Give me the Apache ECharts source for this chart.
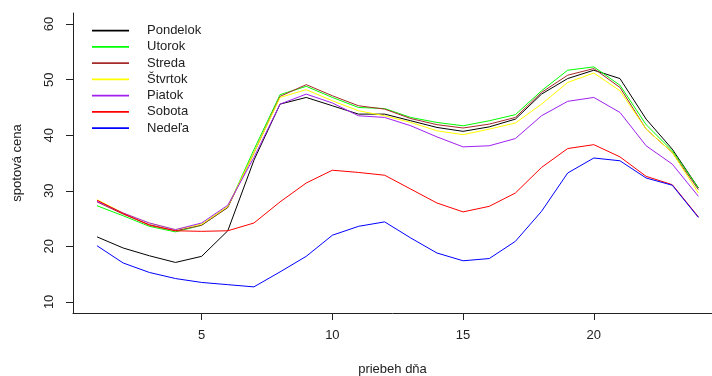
<!DOCTYPE html>
<html>
<head>
<meta charset="utf-8">
<script src="https://cdn.jsdelivr.net/npm/echarts@6/dist/echarts.min.js"></script>
<style>html,body{margin:0;padding:0;background:#fff}#c{width:712px;height:376px}</style>
</head>
<body>
<div id="c"></div>
<script>
const hours = [1,2,3,4,5,6,7,8,9,10,11,12,13,14,15,16,17,18,19,20,21,22,23,24];
const pondelok = [21.7,19.7,18.3,17.1,18.2,22.8,35.5,45.6,46.8,45.3,43.8,43.8,42.6,41.4,40.7,41.5,42.9,47.4,50.2,51.7,50.2,42.9,37.5,30.5];
const utorok   = [27.3,25.5,23.6,22.6,23.8,27.0,37.4,47.3,48.8,46.8,45.0,44.8,43.2,42.3,41.7,42.6,43.7,48.0,51.7,52.3,49.0,41.9,37.2,30.5];
const streda   = [28.0,25.8,23.9,22.8,23.8,27.0,36.8,47.0,49.1,47.1,45.3,44.7,43.0,41.9,41.3,42.0,43.2,47.7,50.8,52.0,48.6,41.1,36.9,30.2];
const stvrtok  = [28.4,26.0,24.2,23.0,24.0,27.2,36.8,46.8,48.2,46.2,44.4,43.5,42.3,40.8,40.1,41.1,42.2,45.6,49.5,51.2,48.0,41.1,36.9,29.6];
const piatok   = [28.1,26.0,24.2,23.0,24.2,27.4,36.0,45.6,47.4,45.8,43.5,43.2,41.7,39.7,37.9,38.1,39.4,43.5,46.1,46.8,44.1,38.1,34.8,29.0];
const sobota   = [28.3,25.9,23.8,22.8,22.7,22.8,24.2,28.0,31.4,33.7,33.3,32.8,30.3,27.8,26.2,27.2,29.6,34.2,37.6,38.3,36.1,32.6,31.1,25.3];
const nedela   = [20.1,17.0,15.3,14.2,13.5,13.1,12.7,15.4,18.2,22.0,23.6,24.4,21.5,18.8,17.4,17.8,20.9,26.3,33.2,35.9,35.4,32.3,31.0,25.2];
const seriesNames = ['Pondelok','Utorok','Streda','Štvrtok','Piatok','Sobota','Nedeľa'];
const seriesValues = [pondelok, utorok, streda, stvrtok, piatok, sobota, nedela];
const colors = ['#000000','#00ff00','#a52a2a','#ffff00','#a020f0','#ff0000','#0000ff'];
const xTicks = [5,10,15,20];
const yTicks = [10,20,30,40,50,60];

const font = 'Liberation Sans, Arial, sans-serif';
const chart = echarts.init(document.getElementById('c'), null, {renderer:'canvas'});
chart.setOption({
  animation: false,
  backgroundColor: '#fff',
  grid: {left: 73, right: 0, top: 13, bottom: 63, containLabel: false, outerBoundsMode: 'none'},
  legend: {
    orient: 'vertical', left: 92, top: 22.5, padding: 0, itemGap: 0,
    itemWidth: 37, itemHeight: 1.6, icon: 'rect',
    itemStyle: {borderWidth: 0},
    textStyle: {fontFamily: font, fontSize: 13, color: '#222', lineHeight: 16.25, padding: [0,0,0,13]},
    data: seriesNames
  },
  xAxis: {
    type: 'value', min: 0.08, max: 24.52,
    name: 'priebeh dňa', nameLocation: 'middle', nameGap: 50,
    nameTextStyle: {fontFamily: font, fontSize: 13, color: '#222'},
    axisLine: {show: true, onZero: false, lineStyle: {color: '#222', width: 1}},
    axisTick: {show: true, length: 7, inside: false, customValues: xTicks, lineStyle: {color: '#222'}},
    axisLabel: {customValues: xTicks, fontFamily: font, fontSize: 13, color: '#222', margin: 16},
    splitLine: {show: false}
  },
  yAxis: {
    type: 'value', min: 8, max: 62,
    name: 'spotová cena', nameLocation: 'middle', nameGap: 49,
    nameTextStyle: {fontFamily: font, fontSize: 13, color: '#222'},
    axisLine: {show: true, onZero: false, lineStyle: {color: '#222', width: 1}},
    axisTick: {show: true, length: 7, customValues: yTicks, lineStyle: {color: '#222'}},
    axisLabel: {customValues: yTicks, rotate: 90, fontFamily: font, fontSize: 13, color: '#222', margin: 17},
    splitLine: {show: false}
  },
  series: seriesNames.map((n, i) => ({
    name: n, type: 'line', showSymbol: false, symbol: 'none',
    color: colors[i],
    lineStyle: {width: 1, color: colors[i]},
    data: hours.map((h, j) => [h, seriesValues[i][j]])
  }))
});
</script>
</body>
</html>
